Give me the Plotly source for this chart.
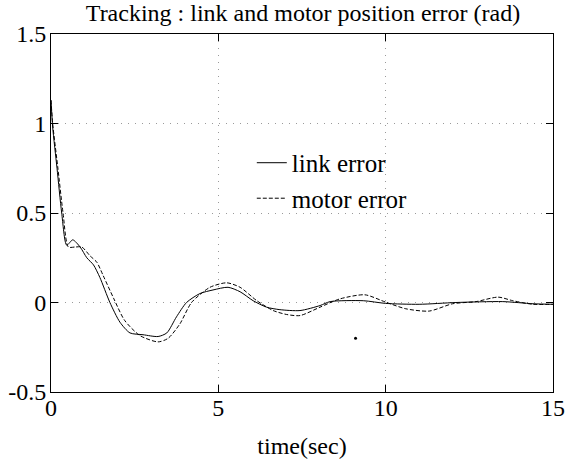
import plotly.graph_objects as go

# link (solid) error
t_link = [0.0, 0.05, 0.18, 0.32, 0.47, 0.65, 0.87, 1.07, 1.27, 1.46, 1.76, 2.06, 2.36, 2.75,
          3.2, 3.46, 3.75, 4.05, 4.45, 4.84, 5.29, 5.65, 6.04, 6.44, 6.84, 7.44, 8.04, 8.34,
          9.33, 10.0, 11.0, 12.1, 13.5, 14.4, 15.0]
e_link = [1.13, 0.98, 0.75, 0.50, 0.32, 0.35, 0.31, 0.25, 0.21, 0.14, 0.0, -0.11, -0.17,
          -0.18, -0.19, -0.17, -0.08, 0.0, 0.05, 0.07, 0.085, 0.06, 0.01, -0.026, -0.04, -0.045,
          -0.017, 0.005, 0.01, -0.005, -0.01, 0.0, 0.005, -0.007, -0.01]

# motor (dashed) error
t_motor = [0.0, 0.05, 0.2, 0.36, 0.52, 0.72, 0.92, 1.17, 1.37, 1.56, 1.88, 2.2, 2.66, 3.2,
           3.5, 3.85, 4.2, 4.75, 5.25, 5.65, 6.15, 6.64, 7.04, 7.44, 8.04, 8.63, 9.38, 10.0,
           10.6, 11.3, 12.0, 12.7, 13.36, 13.8, 14.4, 15.0]
e_motor = [1.13, 1.0, 0.76, 0.50, 0.31, 0.31, 0.31, 0.26, 0.225, 0.15, 0.02, -0.1, -0.185,
           -0.22, -0.2, -0.12, 0.0, 0.085, 0.11, 0.085, 0.01, -0.045, -0.067, -0.073, -0.026,
           0.02, 0.043, 0.002, -0.035, -0.048, -0.007, 0.005, 0.03, 0.01, -0.01, -0.01]

# stray speck on the scan
speck_t = [9.1]
speck_e = [-0.2]

x_ticks = [0, 5, 10, 15]
y_ticks = [-0.5, 0, 0.5, 1, 1.5]
y_labels = ["-0.5", "0", "0.5", "1", "1.5"]

serif = "Liberation Serif"

fig = go.Figure()
fig.add_trace(go.Scatter(x=t_link, y=e_link, mode="lines", name="link error",
                         line=dict(color="black", width=1, shape="spline", smoothing=0.7)))
fig.add_trace(go.Scatter(x=t_motor, y=e_motor, mode="lines", name="motor error",
                         line=dict(color="black", width=1, dash="4px,2px", shape="spline",
                                   smoothing=0.7)))
fig.add_trace(go.Scatter(x=speck_t, y=speck_e, mode="markers", showlegend=False,
                         marker=dict(color="black", size=3)))

axis_common = dict(showline=True, linecolor="black", linewidth=1, mirror="ticks",
                   ticks="inside", ticklen=7, tickcolor="black", zeroline=False,
                   showgrid=True, gridcolor="#9a9a9a", griddash="1px,6px", gridwidth=1,
                   automargin=False, tickfont=dict(family=serif, size=24, color="black"))

fig.update_layout(
    width=574, height=460,
    paper_bgcolor="white", plot_bgcolor="white",
    margin=dict(l=51, r=21, t=34, b=68),
    title=dict(text="Tracking : link and motor position error (rad)", x=0.502, xanchor="center",
               xref="paper", yref="container", y=0.99, yanchor="top",
               font=dict(family=serif, size=24, color="black")),
    xaxis=dict(range=[0, 15], tickvals=x_ticks, ticklabelstandoff=-6,
               title=dict(text="time(sec)", standoff=17,
                          font=dict(family=serif, size=24, color="black")), **axis_common),
    yaxis=dict(range=[-0.5, 1.5], tickvals=y_ticks, ticktext=y_labels, ticklabelstandoff=-1,
               **axis_common),
    legend=dict(x=0.40, y=0.704, xanchor="left", yanchor="top", bgcolor="rgba(0,0,0,0)",
                font=dict(family=serif, size=25, color="black"), tracegroupgap=0),
    showlegend=True,
)

# drop the page's default body margin so the figure sits at the window's corner
fig.write_html("out.html", config={"displayModeBar": False},
               post_script="document.body.style.margin='0';")
